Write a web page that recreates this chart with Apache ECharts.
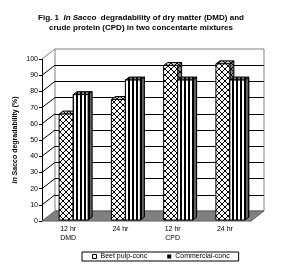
<!DOCTYPE html>
<html>
<head>
<meta charset="utf-8">
<script src="https://cdn.jsdelivr.net/npm/echarts@6/dist/echarts.min.js"></script>
<style>
  html, body { margin: 0; padding: 0; background: #fff; }
  #main { width: 286px; height: 277px; }
</style>
</head>
<body>
<div id="main"></div>
<script>
// data
const categories = ["12 hr\nDMD", "24 hr", "12 hr\nCPD", "24 hr"];
const seriesNames = ["Beet pulp-conc", "Commercial-conc"];
const beetPulp = [66, 75, 96, 97];
const commercial = [78, 87, 87, 87];
const yTicks = [10, 20, 30, 40, 50, 60, 70, 80, 90, 100];

// 3d look
const DEPTH_X = 13, DEPTH_Y = -10; // front plane -> back wall
const BX = 4, BY = -3;             // bar depth

function makePattern(bg, draw, w, h) {
  const c = document.createElement("canvas");
  c.width = w;
  c.height = h;
  const ctx = c.getContext("2d");
  ctx.fillStyle = bg;
  ctx.fillRect(0, 0, w, h);
  draw(ctx);
  return { image: c, repeat: "repeat" };
}
function cross(bg) {
  return makePattern(bg, function (ctx) {
    ctx.strokeStyle = "#000";
    ctx.lineWidth = 1;
    ctx.beginPath();
    ctx.moveTo(0, 0); ctx.lineTo(6, 6);
    ctx.moveTo(6, 0); ctx.lineTo(0, 6);
    ctx.stroke();
  }, 6, 6);
}
function stripes(bg) {
  return makePattern(bg, function (ctx) {
    ctx.fillStyle = "#000";
    ctx.fillRect(0, 0, 2, 1);
  }, 4, 1);
}

const fills = [
  { front: cross("#fff"), top: cross("#c0c0c0"), side: cross("#808080") },
  { front: stripes("#fff"), top: stripes("#808080"), side: stripes("#606060") },
];

function barRenderer(k) {
  return function (params, api) {
    const idx = api.value(0);
    const top = api.coord([idx, api.value(1)]);
    const base = api.coord([idx, 0]);
    const x0 = k === 0 ? top[0] - 9 : top[0] + 5;
    const w = k === 0 ? 14 : 15;
    const y1 = top[1];
    const y0 = base[1] - 1;
    const f = fills[k];
    const st = { stroke: "#000", lineWidth: 1 };
    return {
      type: "group",
      children: [
        {
          type: "polygon",
          shape: { points: [[x0 + w, y1], [x0 + w + BX, y1 + BY], [x0 + w + BX, y0 + BY], [x0 + w, y0]] },
          style: Object.assign({ fill: f.side }, st),
        },
        {
          type: "polygon",
          shape: { points: [[x0, y1], [x0 + BX, y1 + BY], [x0 + w + BX, y1 + BY], [x0 + w, y1]] },
          style: Object.assign({ fill: f.top }, st),
        },
        {
          type: "rect",
          shape: { x: x0, y: y1, width: w, height: y0 - y1 },
          style: Object.assign({ fill: f.front }, st),
        },
      ],
    };
  };
}

const chart = echarts.init(document.getElementById("main"), null, { renderer: "canvas" });

const option = {
  animation: false,
  backgroundColor: "#fff",
  textStyle: { fontFamily: "Liberation Sans, Arial, sans-serif" },
  title: {
    left: 136,
    top: 8,
    textAlign: "center",
    text: "{b|Fig. 1  }{bi|In Sacco}{b|  degradability of dry matter (DMD) and}\n{b|crude protein (CPD) in two concentarte mixtures}",
    textStyle: {
      rich: {
        b: { fontSize: 8, fontWeight: "bold", color: "#000", lineHeight: 10, fontFamily: "Liberation Sans" },
        bi: { fontSize: 8, fontWeight: "bold", fontStyle: "italic", color: "#000", lineHeight: 10, fontFamily: "Liberation Sans" },
      },
    },
  },
  legend: {
    left: 82,
    top: 252,
    padding: [1, 9, 1, 10],
    itemGap: 20,
    itemWidth: 4,
    itemHeight: 4,
    borderColor: "#000",
    borderWidth: 1,
    textStyle: { fontSize: 7, color: "#000", padding: [0, 0, 0, -1], fontFamily: "Liberation Sans" },
    data: [
      { name: seriesNames[0], icon: "rect", itemStyle: { color: "#fff", borderColor: "#000", borderWidth: 1 } },
      { name: seriesNames[1], icon: "rect", itemStyle: { color: "#000" } },
    ],
  },
  grid: [
    { left: 42, top: 59, width: 209, height: 162, show: false },
    { left: 55, top: 49, width: 209, height: 162, show: true, backgroundColor: "#fff", borderColor: "#808080", borderWidth: 1 },
  ],
  xAxis: [
    {
      gridIndex: 0,
      type: "category",
      data: categories,
      axisLine: { show: false },
      axisTick: { show: false },
      axisLabel: { fontSize: 7, color: "#000", margin: 4, lineHeight: 9 },
    },
    { gridIndex: 1, type: "category", data: categories, show: false },
  ],
  yAxis: [
    {
      gridIndex: 0,
      type: "value",
      min: 0,
      max: 100,
      interval: 10,
      name: "{i|In Sacco} degradability (%)",
      nameLocation: "middle",
      nameGap: 23,
      nameMoveOverlap: false,
      nameRotate: 90,
      nameTextStyle: {
        fontSize: 7,
        fontWeight: "bold",
        color: "#000",
        rich: { i: { fontSize: 7, fontWeight: "bold", fontStyle: "italic", color: "#000" } },
      },
      axisLine: { show: true, lineStyle: { color: "#000", width: 1 } },
      axisTick: { show: true, length: 3, lineStyle: { color: "#000" } },
      axisLabel: { fontSize: 7, color: "#000", margin: 4 },
      splitLine: { show: false },
    },
    {
      gridIndex: 1,
      type: "value",
      min: 0,
      max: 100,
      interval: 10,
      axisLine: { show: false },
      axisTick: { show: false },
      axisLabel: { show: false },
      splitLine: { show: true, showMinLine: false, showMaxLine: false, lineStyle: { color: "#000", width: 1 } },
    },
  ],
  series: [
    {
      // floor
      type: "custom",
      xAxisIndex: 0,
      yAxisIndex: 0,
      silent: true,
      z: 1,
      data: [[0, 0]],
      renderItem: function (params, api) {
        const cs = params.coordSys;
        const y = api.coord([0, 0])[1];
        return {
          type: "polygon",
          shape: { points: [[cs.x, y], [cs.x + cs.width, y], [cs.x + cs.width + DEPTH_X, y + DEPTH_Y], [cs.x + DEPTH_X, y + DEPTH_Y]] },
          style: { fill: "#808080", stroke: "#606060", lineWidth: 1 },
        };
      },
    },
    {
      // diagonal ticks on the side wall
      type: "custom",
      xAxisIndex: 0,
      yAxisIndex: 0,
      silent: true,
      z: 1,
      data: yTicks.map(function (v) { return [0, v]; }),
      renderItem: function (params, api) {
        const cs = params.coordSys;
        const v = api.value(1);
        const y = api.coord([0, v])[1];
        return {
          type: "line",
          shape: { x1: cs.x, y1: y, x2: cs.x + DEPTH_X, y2: y + DEPTH_Y },
          style: { stroke: v === 100 ? "#808080" : "#000", lineWidth: 1 },
        };
      },
    },
    {
      name: seriesNames[0],
      type: "custom",
      xAxisIndex: 0,
      yAxisIndex: 0,
      z: 3,
      itemStyle: { color: "#fff", borderColor: "#000" },
      data: beetPulp.map(function (v, i) { return [i, v]; }),
      renderItem: barRenderer(0),
    },
    {
      name: seriesNames[1],
      type: "custom",
      xAxisIndex: 0,
      yAxisIndex: 0,
      z: 4,
      itemStyle: { color: "#000" },
      data: commercial.map(function (v, i) { return [i, v]; }),
      renderItem: barRenderer(1),
    },
  ],
};

chart.setOption(option);
</script>
</body>
</html>
